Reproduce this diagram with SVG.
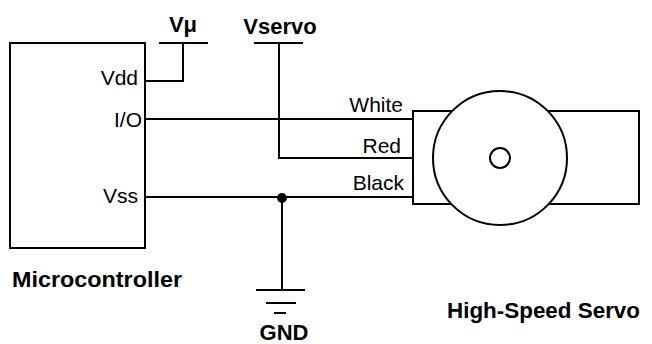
<svg xmlns="http://www.w3.org/2000/svg" width="652" height="344" viewBox="0 0 652 344">
<style>
.s{fill:none;stroke:#000;stroke-width:2}
.t{font-family:"Liberation Sans",Arial,sans-serif;font-size:21px;fill:#000}
.b{font-weight:bold;font-size:22px}
</style>
<rect width="652" height="344" fill="#fff"/>
<g id="mcu">
<rect class="s" x="10" y="43" width="135" height="205"/>
<text class="t" x="138" y="85" text-anchor="end">Vdd</text>
<text class="t" x="142" y="127" text-anchor="end">I/O</text>
<text class="t" x="138" y="203" text-anchor="end">Vss</text>
<text class="t b" x="12" y="287" textLength="170" lengthAdjust="spacingAndGlyphs">Microcontroller</text>
</g>
<g id="vmu">
<line class="s" x1="159" y1="43" x2="208" y2="43"/>
<text class="t b" x="183" y="32" text-anchor="middle">Vμ</text>
</g>
<g id="vservo">
<line class="s" x1="254" y1="43" x2="303" y2="43"/>
<text class="t b" x="280" y="34" text-anchor="middle">Vservo</text>
</g>
<g id="gnd">
<line class="s" x1="256" y1="290" x2="305" y2="290"/>
<line class="s" x1="266" y1="303" x2="296" y2="303"/>
<line class="s" x1="274" y1="313" x2="286" y2="313"/>
<text class="t b" x="284" y="340" text-anchor="middle">GND</text>
</g>
<g id="servo">
<rect class="s" x="413" y="111" width="226" height="93"/>
<circle cx="500" cy="158" r="67" fill="#fff" stroke="#000" stroke-width="2"/>
<circle class="s" cx="500" cy="158" r="10"/>
<text class="t b" x="447" y="318" textLength="193" lengthAdjust="spacingAndGlyphs">High-Speed Servo</text>
</g>
<g id="connectors">
<polyline class="s" points="145,81 183,81 183,43"/>
<line class="s" x1="145" y1="119" x2="413" y2="119"/>
<polyline class="s" points="279,43 279,158 413,158"/>
<line class="s" x1="145" y1="197" x2="413" y2="197"/>
<line class="s" x1="282" y1="197" x2="282" y2="290"/>
<circle cx="282" cy="198" r="5" fill="#000"/>
<text class="t" x="403" y="112" text-anchor="end">White</text>
<text class="t" x="401" y="153" text-anchor="end">Red</text>
<text class="t" x="404" y="190" text-anchor="end">Black</text>
</g>
</svg>
